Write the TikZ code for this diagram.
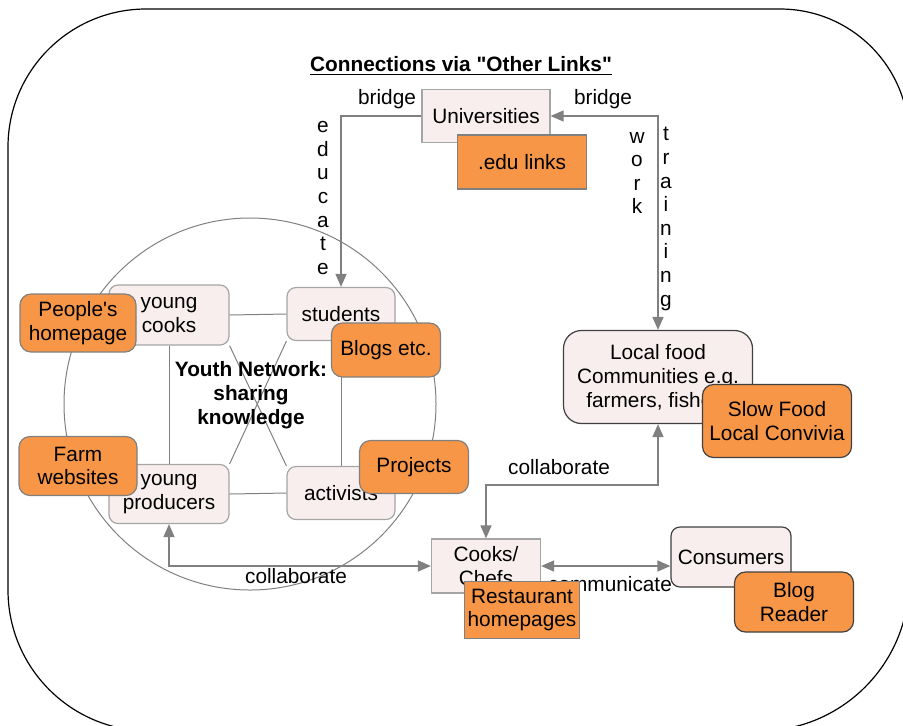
\documentclass[tikz,border=0pt]{standalone}
\usepackage{fontspec}
\setmainfont{Liberation Sans}[Ligatures=TeXOff]
\usetikzlibrary{arrows.meta}
\usetikzlibrary{positioning}
\definecolor{nodepink}{RGB}{248,238,238}
\definecolor{linkorange}{RGB}{247,150,70}
\definecolor{linegray}{RGB}{128,128,128}
\definecolor{boxgray}{RGB}{165,165,165}
\newcommand{\txt}{\fontsize{10.4}{11.7}\selectfont}
\tikzset{
	>={Triangle[length=6.5pt,width=5.5pt]},
	member/.style={
		rectangle,
		fill=nodepink,
		draw=boxgray, line width=0.6pt,
		inner sep=0pt,
		align=center,
		font=\txt},
	memberround/.style={member, rounded corners=4.5pt},
	site/.style={
		rectangle,
		fill=linkorange,
		draw=linegray, line width=0.6pt,
		inner sep=0pt,
		align=center,
		font=\txt},
	siteround/.style={site, rounded corners=5.5pt},
	dark/.style={draw=black!75},
	line/.style={draw=linegray, line width=0.7pt},
	thinline/.style={draw=linegray, line width=0.5pt},
	wordnode/.style={inner sep=0pt, font=\txt},
	vertword/.style={inner sep=0pt, align=center, font=\fontsize{10.4}{11.8}\selectfont},
}
\begin{document}
\begin{tikzpicture}[x=0.5pt,y=-0.5pt]
	\useasboundingbox (0,0) rectangle (903,725);
	\clip (0,0) rectangle (903,725);
	
	% outer frame
	\draw[line width=0.6pt] (460,9) [rounded corners=64.5pt] -- (909,9)
		[rounded corners=75pt] -- (909,731)
		[rounded corners=70.5pt] -- (8,731)
		[rounded corners=69pt] -- (8,9) -- cycle;
	
	\node[inner sep=0pt, font=\bfseries\txt] (title) at (461,66) {\underline{Connections via "Other Links"}};
	
	% youth network
	\draw[thinline] (250,404) circle[radius=93pt];
	
	\node[memberround, minimum width=60pt, minimum height=30pt] (ycooks) at (169,315) {young\\cooks};
	\node[memberround, minimum width=54pt, minimum height=26.5pt] (students) at (341,314) {students};
	\node[memberround, minimum width=60pt, minimum height=29.5pt] (yprod) at (169,494) {young\\producers};
	\node[memberround, minimum width=54pt, minimum height=26.5pt] (activists) at (341,493) {activists};
	
	\node[member, minimum width=64pt, minimum height=26.5pt] (univ) at (486,116) {Universities};
	\node[member, dark, rounded corners=9pt, minimum width=94.5pt, minimum height=46.5pt,
		font=\fontsize{10.4}{12}\selectfont] (local) at (658,377) {Local food\\Communities e.g.\\farmers, fishers};
	\node[member, minimum width=54.5pt, minimum height=27pt] (chefs) at (486,566) {Cooks/\\Chefs};
	\node[memberround, dark, minimum width=60pt, minimum height=30pt] (consumers) at (731,557) {Consumers};
	
	\draw[thinline] (ycooks.east) -- (students.west);
	\draw[thinline] (yprod.east) -- (activists.west);
	\draw[thinline] (ycooks.south) -- (yprod.north);
	\draw[thinline] (students.south) -- (activists.north);
	\draw[thinline] (ycooks.south east) -- (activists.north west);
	\draw[thinline] (students.south west) -- (yprod.north east);
	
	\node[inner sep=0pt, align=center, font=\bfseries\fontsize{10.4}{12}\selectfont] (youth) at (251,395) {Youth Network:\\sharing\\knowledge};
	
	% connectors
	\coordinate (bend) at (486,485);
	\draw[line, ->] (univ.west) -| (students.north);
	\draw[line, <->] (univ.east) -| (local.north);
	\draw[line, <->] (chefs.north) -- (bend) -| (local.south);
	\draw[line, <->] (yprod.south) |- (chefs.west);
	\draw[line, <->] (chefs.east) -- (consumers.west |- chefs.east);
	
	\node[wordnode] (bridgea) at (387,99) {bridge};
	\node[wordnode] (bridgeb) at (603,99) {bridge};
	\node[vertword] (educate) at (323,198) {e\\d\\u\\c\\a\\t\\e};
	\node[vertword] (work) at (637,173) {w\\o\\r\\k};
	\node[vertword] (training) at (666,219) {t\\r\\a\\i\\n\\i\\n\\g};
	\node[wordnode] (collaba) at (559,467) {collaborate};
	\node[wordnode] (collabb) at (296,576) {collaborate};
	\node[wordnode] (communicate) at (610,584) {communicate};
	
	% link types
	\node[site, minimum width=64.5pt, minimum height=27pt] (edu) at (522,162) {.edu links};
	\node[siteround, minimum width=58pt, minimum height=29pt] (people) at (78,323) {People's\\homepage};
	\node[siteround, minimum width=59pt, minimum height=29.5pt] (farm) at (78,466) {Farm\\websites};
	\node[siteround, minimum width=54.5pt, minimum height=27pt] (blogs) at (386,350) {Blogs etc.};
	\node[siteround, minimum width=54.5pt, minimum height=26.5pt] (projects) at (414,467) {Projects};
	\node[siteround, dark, minimum width=74.5pt, minimum height=36.5pt] (slowfood) at (777,421) {Slow Food\\Local Convivia};
	\node[site, minimum width=57.5pt, minimum height=28.5pt] (restaurant) at (522,610) {Restaurant\\homepages};
	\node[siteround, dark, minimum width=59.5pt, minimum height=30pt] (blogreader) at (794,602) {Blog\\Reader};
	
\end{tikzpicture}
\end{document}
